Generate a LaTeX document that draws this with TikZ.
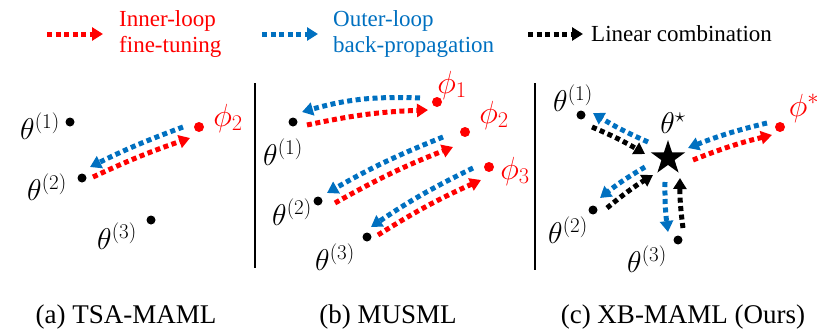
\documentclass[tikz,border=0pt]{standalone}
\usepackage{fix-cm}
\usepackage[no-math]{fontspec}
\setmainfont{Liberation Serif}[Ligatures=TeX]
\usetikzlibrary{arrows.meta,shapes.geometric}
\definecolor{oblue}{RGB}{0,112,192}
\definecolor{ored}{RGB}{255,0,0}
\begin{document}
\begin{tikzpicture}[x=1pt,y=-1pt,
  dot/.style={circle,fill=black,inner sep=0pt,minimum size=9pt},
  rdot/.style={circle,fill=ored,inner sep=0pt,minimum size=10pt},
  arr/.style={line width=5pt,dash pattern=on 5pt off 3.5pt,-{Triangle[length=11pt,width=13pt]}},
  redarr/.style={arr,draw=ored},
  bluearr/.style={arr,draw=oblue},
  blkarr/.style={arr,draw=black},
  lbl/.style={inner sep=0pt,font=\fontsize{30}{32}\selectfont},
  rlbl/.style={inner sep=0pt,text=ored,font=\fontsize{32}{34}\selectfont},
  leg/.style={inner sep=0pt,font=\fontsize{23}{26}\selectfont,align=left,anchor=west},
  captxt/.style={inner sep=0pt,font=\fontsize{27}{30}\selectfont,anchor=base},
  sepline/.style={line width=2pt}
]
\useasboundingbox (0,0) rectangle (831,332);

% legend
\node[leg,text=ored] (lin) at (119,34) {Inner-loop\\fine-tuning};
\node[leg,text=oblue] (lout) at (333,34) {Outer-loop\\back-propagation};
\node[leg] (llin) at (591,34) {Linear combination};
\draw[redarr] ([xshift=-72pt]lin.west) -- ([xshift=-16pt]lin.west);
\draw[bluearr] ([xshift=-71pt]lout.west) -- ([xshift=-15pt]lout.west);
\draw[blkarr] ([xshift=-63pt]llin.west) -- ([xshift=-8pt]llin.west);

% separators
\coordinate (s1t) at (255,83); \coordinate (s1b) at (255,268);
\coordinate (s2t) at (535,83); \coordinate (s2b) at (535,270);
\draw[sepline] (s1t) -- (s1b);
\draw[sepline] (s2t) -- (s2b);

% panel (a)
\node[dot] (at1) at (70,122) {};
\node[dot] (at2) at (82,178) {};
\node[dot] (at3) at (151,220) {};
\node[rdot] (ap2) at (199,127) {};
\node[lbl] at (40,126) {$\theta^{(1)}$};
\node[lbl] at (47,187) {$\theta^{(2)}$};
\node[lbl] at (117,236) {$\theta^{(3)}$};
\node[rlbl] at (228,118) {$\phi_2$};
\draw[bluearr] ([shift={(-16,0)}]ap2.center) to[bend right=3] ([shift={(8,-11)}]at2.center);
\draw[redarr] ([shift={(11,-1)}]at2.center) to[bend left=3] ([shift={(-9,11)}]ap2.center);

% panel (b)
\node[dot] (bt1) at (293,122) {};
\node[dot] (bt2) at (318,201) {};
\node[dot] (bt3) at (367,237) {};
\node[rdot] (bp1) at (437,102) {};
\node[rdot] (bp2) at (465,132) {};
\node[rdot] (bp3) at (489,167) {};
\node[lbl] at (283,152) {$\theta^{(1)}$};
\node[lbl] at (292,212) {$\theta^{(2)}$};
\node[lbl] at (335,257) {$\theta^{(3)}$};
\node[rlbl] at (452,85) {$\phi_1$};
\node[rlbl] at (494,115) {$\phi_2$};
\node[rlbl] at (515,171) {$\phi_3$};
\draw[bluearr] ([shift={(-17,-4)}]bp1.center) to[bend right=9] ([shift={(9,-10)}]bt1.center);
\draw[redarr] ([shift={(14,3)}]bt1.center) to[bend left=5] ([shift={(-9,8)}]bp1.center);
\draw[bluearr] ([shift={(-22,5)}]bp2.center) to[bend right=4] ([shift={(9,-8)}]bt2.center);
\draw[redarr] ([shift={(17,2)}]bt2.center) to[bend left=4] ([shift={(-12,15)}]bp2.center);
\draw[bluearr] ([shift={(-16,1)}]bp3.center) to[bend right=4] ([shift={(4,-10)}]bt3.center);
\draw[redarr] ([shift={(11,-2)}]bt3.center) to[bend left=4] ([shift={(-8,13)}]bp3.center);

% panel (c)
\node[dot] (ct1) at (581,115) {};
\node[dot] (ct2) at (593,210) {};
\node[dot] (ct3) at (678,240) {};
\node[rdot] (cp) at (780,127) {};
\node[star,star points=5,star point ratio=2.6,fill=black,minimum size=36pt,inner sep=0pt] (ts) at (668,158) {};
\node[lbl] at (573,98) {$\theta^{(1)}$};
\node[lbl] at (568,230) {$\theta^{(2)}$};
\node[lbl] at (647,259) {$\theta^{(3)}$};
\node[lbl] at (673,123) {$\theta^{\star}$};
\node[rlbl] at (804,108) {$\phi^{*}$};
\draw[bluearr] ([shift={(-20,-16)}]ts.center) to[bend left=4] ([shift={(12,-2)}]ct1.center);
\draw[blkarr] ([shift={(11,12)}]ct1.center) to[bend left=4] ([shift={(-23,-4)}]ts.center);
\draw[bluearr] ([shift={(-13,-4)}]cp.center) to[bend right=4] ([shift={(20,-10)}]ts.center);
\draw[redarr] ([shift={(25,2)}]ts.center) to[bend left=4] ([shift={(-8,8)}]cp.center);
\draw[bluearr] ([shift={(-23,9)}]ts.center) to[bend right=4] ([shift={(7,-12)}]ct2.center);
\draw[blkarr] ([shift={(14,-2)}]ct2.center) to[bend left=4] ([shift={(-15,17)}]ts.center);
\draw[bluearr] ([shift={(-3,24)}]ts.center) to[bend right=4] ([shift={(-10,-8)}]ct3.center);
\draw[blkarr] ([shift={(5,-12)}]ct3.center) to[bend left=4] ([shift={(12,20)}]ts.center);

% captions
\node[captxt] (capa) at (126,323) {(a) TSA-MAML};
\node[captxt] (capb) at (388,323) {(b) MUSML};
\node[captxt] (capc) at (683,323) {(c) XB-MAML (Ours)};
\end{tikzpicture}
\end{document}
